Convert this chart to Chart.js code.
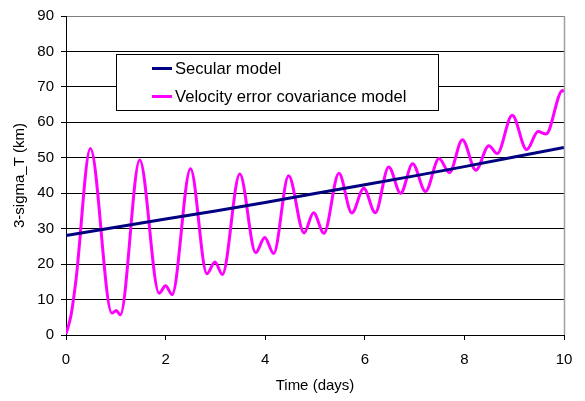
<!DOCTYPE html>
<html>
<head>
<meta charset="utf-8">
<script src="https://cdn.jsdelivr.net/npm/chart.js@4/dist/chart.umd.min.js"></script>
<style>
html,body{margin:0;padding:0;background:#fff;}
#wrap{width:585px;height:401px;position:relative;}
</style>
</head>
<body>
<div id="wrap"><canvas id="c" width="585" height="401"></canvas></div>
<script>
// ---- data ----
const secularLabel = 'Secular model';
const secularX = [0,1,2,3,4,5,6,7,8,9,10];
const secularY = [28.1,30.4,32.7,35.0,37.4,39.9,42.4,44.9,47.5,50.2,52.9];

const velLabel = 'Velocity error covariance model';
const velX = [0,0.1,0.2,0.49,0.92,1.01,1.09,1.48,1.87,2.00,2.13,2.50,2.83,2.99,3.14,3.49,3.81,3.99,4.17,4.47,4.78,4.97,5.18,5.48,5.74,5.98,6.21,6.48,6.72,6.96,7.22,7.49,7.70,7.96,8.23,8.49,8.66,8.96,9.25,9.48,9.64,9.97,10.0];
const velY = [0.3,5.5,15.5,52.6,6.2,6.9,5.7,49.4,11.8,13.9,11.4,46.9,17.3,20.6,17.1,45.4,23.2,27.5,23.0,44.9,28.8,34.5,28.7,45.6,34.4,41.4,34.5,47.4,40.0,48.3,40.5,49.8,45.8,55.1,46.5,53.4,51.2,62.0,52.3,57.4,56.7,69.0,68.6];

const xTitle = 'Time (days)';
const yTitle = '3-sigma_T (km)';

const FONT = '"Liberation Sans", Arial, sans-serif';

const legendPlugin = {
  id: 'boxLegend',
  afterDraw(chart) {
    const ctx = chart.ctx;
    const a = chart.chartArea;
    // right border of plot area
    ctx.save();
    ctx.strokeStyle = '#a0a0a0';
    ctx.lineWidth = 1.5;
    ctx.beginPath();
    ctx.moveTo(a.right + 0.5, a.top);
    ctx.lineTo(a.right + 0.5, a.bottom);
    ctx.stroke();
    // legend box
    const L = 116.5, T = 54.5, W = 322, H = 56;
    ctx.fillStyle = '#fff';
    ctx.fillRect(L, T, W, H);
    ctx.strokeStyle = '#000';
    ctx.lineWidth = 1;
    ctx.strokeRect(L, T, W, H);
    const rows = [68.5, 96.5];
    chart.data.datasets.forEach((ds, i) => {
      const y = rows[i];
      ctx.strokeStyle = ds.borderColor;
      ctx.lineWidth = 3;
      ctx.beginPath();
      ctx.moveTo(152, y);
      ctx.lineTo(172, y);
      ctx.stroke();
      ctx.fillStyle = '#000';
      ctx.font = '16.6px ' + FONT;
      ctx.textBaseline = 'middle';
      ctx.textAlign = 'left';
      ctx.fillText(ds.label, 175, y + 1);
    });
    ctx.restore();
  }
};

new Chart(document.getElementById('c'), {
  type: 'line',
  data: {
    datasets: [
      {
        label: secularLabel,
        data: secularX.map((x, i) => ({x: x, y: secularY[i]})),
        borderColor: '#000080',
        borderWidth: 3,
        pointRadius: 0,
        tension: 0,
        fill: false
      },
      {
        label: velLabel,
        data: velX.map((x, i) => ({x: x, y: velY[i]})),
        borderColor: '#FF00FF',
        borderWidth: 3,
        pointRadius: 0,
        cubicInterpolationMode: 'monotone',
        fill: false
      }
    ]
  },
  options: {
    responsive: false,
    animation: false,
    devicePixelRatio: 1,
    layout: {padding: {left: 0, right: 21, top: 10, bottom: 0}},
    plugins: {legend: {display: false}, tooltip: {enabled: false}},
    scales: {
      x: {
        type: 'linear',
        min: 0, max: 10,
        ticks: {stepSize: 2, color: '#000', font: {family: FONT, size: 15}, padding: 11, maxRotation: 0},
        grid: {display: true, drawOnChartArea: false, drawTicks: true, tickLength: 5, color: '#000', tickColor: '#000'},
        border: {display: true, color: '#000', width: 1},
        title: {display: true, text: xTitle, color: '#000', font: {family: FONT, size: 15}, padding: {top: 0, bottom: 6}},
        afterFit(s) { s.height = 66; }
      },
      y: {
        min: 0, max: 90,
        ticks: {stepSize: 10, color: '#000', font: {family: FONT, size: 15}, padding: 7},
        grid: {
          display: true, drawTicks: true, tickLength: 5, tickColor: '#000',
          color: (c) => (c.tick && c.tick.value === 90) ? '#808080' : '#000',
          lineWidth: 1
        },
        border: {display: true, color: '#000', width: 1},
        title: {display: true, text: yTitle, color: '#000', font: {family: FONT, size: 15}, padding: {top: 11, bottom: 0}},
        afterFit(s) { s.width = 66; }
      }
    }
  },
  plugins: [legendPlugin]
});
</script>
</body>
</html>
